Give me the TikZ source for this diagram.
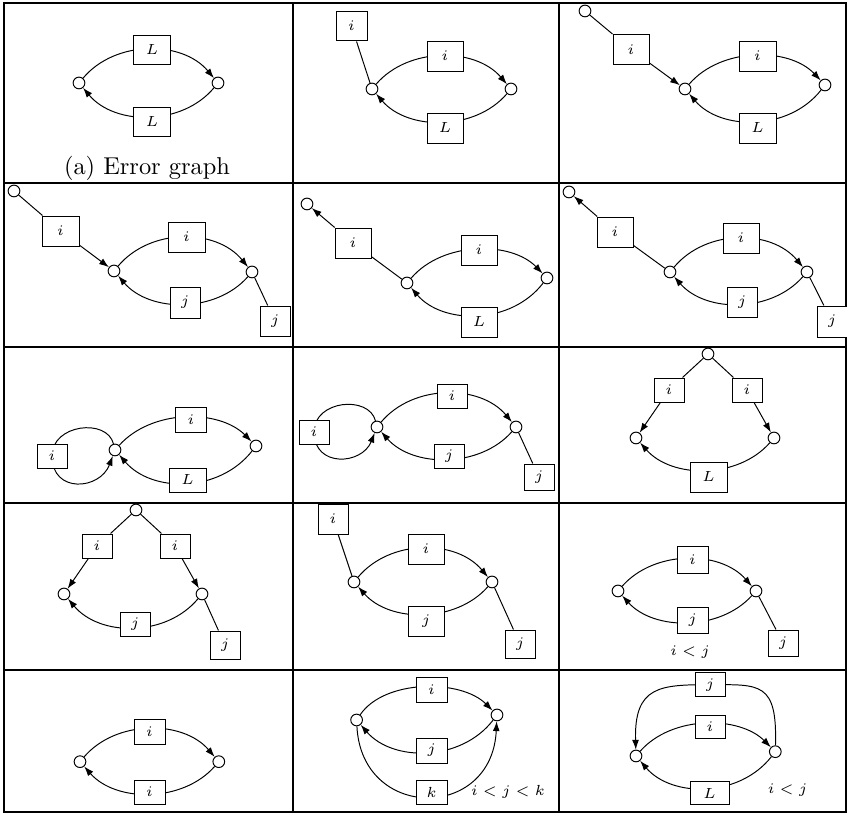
\documentclass[tikz,border=0pt]{standalone}
\usetikzlibrary{arrows.meta}
\pgfdeclarelayer{bg}
\pgfsetlayers{bg,main}
\tikzset{
 v/.style={circle,draw,fill=white,inner sep=0pt,minimum size=4.8pt,line width=0.4pt},
 bx/.style 2 args={rectangle,draw,fill=white,inner sep=0pt,line width=0.4pt,minimum width=#1*0.41pt,minimum height=#2*0.41pt,font=\fontsize{6}{7}\selectfont},
 ed/.style={line width=0.4pt},
 arr/.style={-{Latex[length=4pt,width=2.8pt]}},
 gridl/.style={line width=0.5pt},
 lbl/.style={inner sep=0pt,font=\fontsize{6}{7}\selectfont}
}
\begin{document}
\begin{tikzpicture}[x=0.41pt,y=-0.41pt]
\useasboundingbox (0,0) rectangle (847,815);
% grid
\draw[gridl] (4,3) rectangle (846,812);
\draw[gridl] (293,3) -- (293,812) (559,3) -- (559,812);
\draw[gridl] (4,183) -- (846,183) (4,347) -- (846,347) (4,503) -- (846,503) (4,670) -- (846,670);

% ---------- cell 1,1
\node[v] (a1) at (79,83) {};
\node[v] (b1) at (218,83) {};
\node[bx={37}{29}] (t1) at (152,50) {$L$};
\node[bx={37}{29}] (u1) at (152,122) {$L$};
\node[anchor=base] (cap) at (147,175) {(a) Error graph};
\begin{pgfonlayer}{bg}
\draw[ed,arr] (a1) .. controls +(36,-43) and +(-36,-43) .. (b1);
\draw[ed,arr] (b1) .. controls +(-36,43) and +(36,43) .. (a1);
\end{pgfonlayer}

% ---------- cell 1,2
\node[v] (a2) at (372,89) {};
\node[v] (b2) at (511,89) {};
\node[bx={36}{30}] (t2) at (445,56) {$i$};
\node[bx={36}{30}] (u2) at (445,128) {$L$};
\node[bx={31}{30}] (s2) at (351.5,26) {$i$};
\begin{pgfonlayer}{bg}
\draw[ed,arr] (a2) .. controls +(36,-42) and +(-36,-42) .. (b2);
\draw[ed,arr] (b2) .. controls +(-36,42) and +(36,42) .. (a2);
\draw[ed] (s2) -- (a2);
\end{pgfonlayer}

% ---------- cell 1,3
\node[v] (o3) at (585,11) {};
\node[v] (a3) at (685,89) {};
\node[v] (b3) at (825,85) {};
\node[bx={36}{31}] (s3) at (631,49.5) {$i$};
\node[bx={37}{30}] (t3) at (757.5,56) {$i$};
\node[bx={37}{30}] (u3) at (757.5,128) {$L$};
\begin{pgfonlayer}{bg}
\draw[ed,arr] (a3) .. controls +(36,-42) and +(-36,-38) .. (b3);
\draw[ed,arr] (b3) .. controls +(-36,46) and +(36,42) .. (a3);
\draw[ed] (o3) -- (s3);
\draw[ed,arr] (s3) -- (a3);
\end{pgfonlayer}

% ---------- cell 2,1
\node[v] (o4) at (14,191) {};
\node[v] (a4) at (114,271) {};
\node[v] (b4) at (252,272) {};
\node[bx={37}{30}] (s4) at (60.5,231) {$i$};
\node[bx={37}{30}] (t4) at (186.5,237) {$i$};
\node[bx={30}{31}] (u4) at (185,302.5) {$j$};
\node[bx={30}{30}] (r4) at (275,321) {$j$};
\begin{pgfonlayer}{bg}
\draw[ed,arr] (a4) .. controls +(36,-43) and +(-36,-44) .. (b4);
\draw[ed,arr] (b4) .. controls +(-36,41) and +(36,42) .. (a4);
\draw[ed] (o4) -- (s4);
\draw[ed,arr] (s4) -- (a4);
\draw[ed] (b4) -- (r4);
\end{pgfonlayer}

% ---------- cell 2,2
\node[v] (o5) at (307,204) {};
\node[v] (a5) at (407,283) {};
\node[v] (b5) at (547,278) {};
\node[bx={36}{30}] (s5) at (353,243) {$i$};
\node[bx={36}{30}] (t5) at (479,250) {$i$};
\node[bx={36}{30}] (u5) at (479,322) {$L$};
\begin{pgfonlayer}{bg}
\draw[ed,arr] (a5) .. controls +(36,-42) and +(-36,-37) .. (b5);
\draw[ed,arr] (b5) .. controls +(-36,47) and +(36,42) .. (a5);
\draw[ed,arr] (s5) -- (o5);
\draw[ed] (s5) -- (a5);
\end{pgfonlayer}

% ---------- cell 2,3
\node[v] (o6) at (569,192) {};
\node[v] (a6) at (670,272) {};
\node[v] (b6) at (807,272) {};
\node[bx={36}{30}] (s6) at (615,232) {$i$};
\node[bx={36}{30}] (t6) at (741,238) {$i$};
\node[bx={30}{30}] (u6) at (742,302) {$j$};
\node[bx={30}{31}] (r6) at (832,321.5) {$j$};
\begin{pgfonlayer}{bg}
\draw[ed,arr] (a6) .. controls +(36,-43) and +(-36,-43) .. (b6);
\draw[ed,arr] (b6) .. controls +(-36,41) and +(36,41) .. (a6);
\draw[ed,arr] (s6) -- (o6);
\draw[ed] (s6) -- (a6);
\draw[ed] (b6) -- (r6);
\end{pgfonlayer}

% ---------- cell 3,1
\node[v] (a7) at (115,450) {};
\node[v] (b7) at (256,446) {};
\node[bx={31}{25}] (t7) at (191,420) {$i$};
\node[bx={37}{24}] (u7) at (187.5,480) {$L$};
\node[bx={30}{24}] (l7) at (52,456) {$i$};
\begin{pgfonlayer}{bg}
\draw[ed,arr] (a7) .. controls +(37,-41) and +(-37,-37) .. (b7);
\draw[ed,arr] (b7) .. controls +(-37,47) and +(37,43) .. (a7);
\draw[ed] (a7) .. controls +(-8,-32) and +(0,-32) .. (l7.center);
\draw[ed,arr] (l7.center) .. controls +(0,38) and +(-15,40) .. (a7);
\end{pgfonlayer}

% ---------- cell 3,2
\node[v] (a8) at (377,427) {};
\node[v] (b8) at (516,427) {};
\node[bx={30}{24}] (t8) at (452,396) {$i$};
\node[bx={30}{24}] (u8) at (449,456) {$j$};
\node[bx={30}{24}] (l8) at (314,432) {$i$};
\node[bx={30}{26}] (r8) at (539,477) {$j$};
\begin{pgfonlayer}{bg}
\draw[ed,arr] (a8) .. controls +(36,-43) and +(-36,-43) .. (b8);
\draw[ed,arr] (b8) .. controls +(-36,41) and +(36,41) .. (a8);
\draw[ed] (a8) .. controls +(-8,-32) and +(0,-32) .. (l8.center);
\draw[ed,arr] (l8.center) .. controls +(0,36) and +(-15,38) .. (a8);
\draw[ed] (b8) -- (r8);
\end{pgfonlayer}

% ---------- cell 3,3
\node[v] (o9) at (708,354) {};
\node[v] (a9) at (636,438) {};
\node[v] (b9) at (774,438) {};
\node[bx={30}{24}] (p9) at (669,390) {$i$};
\node[bx={30}{24}] (q9) at (747,390) {$i$};
\node[bx={37}{30}] (u9) at (708.5,477) {$L$};
\begin{pgfonlayer}{bg}
\draw[ed] (o9) -- (p9);
\draw[ed,arr] (p9) -- (a9);
\draw[ed] (o9) -- (q9);
\draw[ed,arr] (q9) -- (b9);
\draw[ed,arr] (b9) .. controls +(-36,41) and +(36,41) .. (a9);
\end{pgfonlayer}

% ---------- cell 4,1
\node[v] (o10) at (136,510) {};
\node[v] (a10) at (64,594) {};
\node[v] (b10) at (202,594) {};
\node[bx={30}{24}] (p10) at (97,546) {$i$};
\node[bx={30}{24}] (q10) at (175,546) {$i$};
\node[bx={30}{24}] (u10) at (135,624) {$j$};
\node[bx={30}{28}] (r10) at (225,645) {$j$};
\begin{pgfonlayer}{bg}
\draw[ed] (o10) -- (p10);
\draw[ed,arr] (p10) -- (a10);
\draw[ed] (o10) -- (q10);
\draw[ed,arr] (q10) -- (b10);
\draw[ed,arr] (b10) .. controls +(-36,43) and +(36,43) .. (a10);
\draw[ed] (b10) -- (r10);
\end{pgfonlayer}

% ---------- cell 4,2
\node[v] (a11) at (354,582) {};
\node[v] (b11) at (492,582) {};
\node[bx={30}{30}] (s11) at (333,519) {$i$};
\node[bx={36}{30}] (t11) at (426,549) {$i$};
\node[bx={36}{30}] (u11) at (426,621) {$j$};
\node[bx={30}{28}] (r11) at (520,644) {$j$};
\begin{pgfonlayer}{bg}
\draw[ed,arr] (a11) .. controls +(36,-43) and +(-36,-43) .. (b11);
\draw[ed,arr] (b11) .. controls +(-36,41) and +(36,41) .. (a11);
\draw[ed] (s11) -- (a11);
\draw[ed] (b11) -- (r11);
\end{pgfonlayer}

% ---------- cell 4,3
\node[v] (a12) at (618,591) {};
\node[v] (b12) at (756,591) {};
\node[bx={31}{27}] (t12) at (692.5,559.5) {$i$};
\node[bx={31}{26}] (u12) at (692.5,620) {$j$};
\node[bx={30}{26}] (r12) at (783,643) {$j$};
\node[lbl,anchor=base] (c12) at (690,656) {$i<j$};
\begin{pgfonlayer}{bg}
\draw[ed,arr] (a12) .. controls +(36,-41) and +(-36,-41) .. (b12);
\draw[ed,arr] (b12) .. controls +(-36,40) and +(36,40) .. (a12);
\draw[ed] (b12) -- (r12);
\end{pgfonlayer}

% ---------- cell 5,1
\node[v] (a13) at (80,761.7) {};
\node[v] (b13) at (218.8,761.7) {};
\node[bx={31}{25}] (t13) at (149.5,731.5) {$i$};
\node[bx={31}{24}] (u13) at (149.5,792) {$i$};
\begin{pgfonlayer}{bg}
\draw[ed,arr] (a13) .. controls +(36,-42) and +(-36,-42) .. (b13);
\draw[ed,arr] (b13) .. controls +(-36,41) and +(36,41) .. (a13);
\end{pgfonlayer}

% ---------- cell 5,2
\node[v] (a14) at (356.6,720) {};
\node[v] (b14) at (497,715) {};
\node[bx={31}{25}] (t14) at (431.5,689.5) {$i$};
\node[bx={31}{25}] (u14) at (431.5,750.5) {$j$};
\node[bx={31}{24}] (w14) at (431.5,792) {$k$};
\node[lbl] (c14) at (508,792) {$i<j<k$};
\begin{pgfonlayer}{bg}
\draw[ed,arr] (a14) .. controls +(28,-41) and +(-36,-36) .. (b14);
\draw[ed,arr] (b14) .. controls +(-36,47) and +(36,42) .. (a14);
\draw[ed,arr] (a14) .. controls +(5,101) and +(-5,106) .. (b14);
\end{pgfonlayer}

% ---------- cell 5,3
\node[v] (a15) at (636,756) {};
\node[v] (b15) at (775.3,751.7) {};
\node[bx={30}{24}] (t15) at (710,684.7) {$j$};
\node[bx={30}{23}] (m15) at (710,726.7) {$i$};
\node[bx={39}{23}] (u15) at (709.5,793.3) {$L$};
\node[lbl] (c15) at (787.5,790) {$i<j$};
\begin{pgfonlayer}{bg}
\draw[ed] (b15) .. controls +(2,-70) and +(50,0) .. (t15.center);
\draw[ed,arr] (t15.center) .. controls +(-50,0) and +(-2,-70) .. (a15);
\draw[ed,arr] (a15) .. controls +(36,-41) and +(-36,-36) .. (b15);
\draw[ed,arr] (b15) .. controls +(-36,46) and +(36,42) .. (a15);
\end{pgfonlayer}
\end{tikzpicture}
\end{document}
